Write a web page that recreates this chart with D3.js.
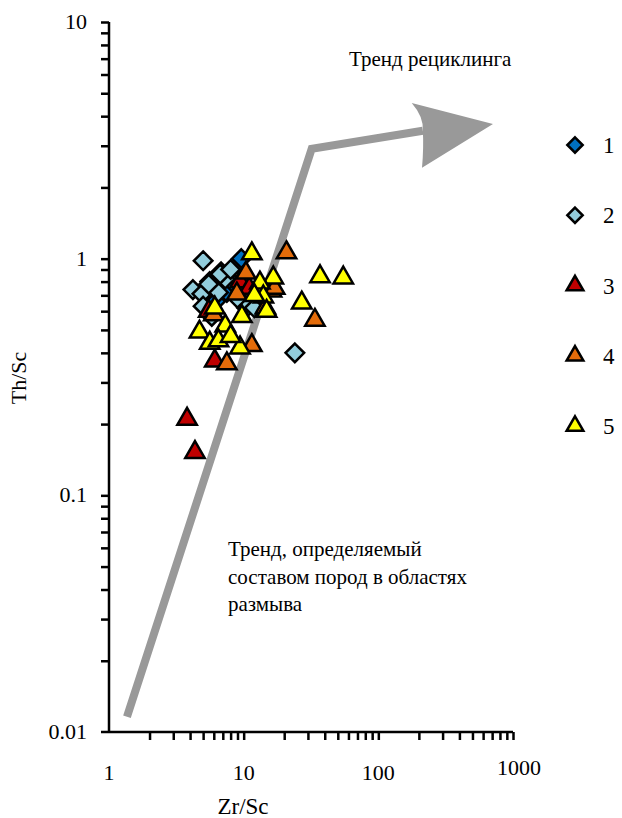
<!DOCTYPE html>
<html>
<head>
<meta charset="utf-8">
<script src="https://cdn.jsdelivr.net/npm/d3@7"></script>
<style>
  body { margin: 0; background: #fff; }
</style>
</head>
<body>
<svg id="chart" width="622" height="818"></svg>
<script>
// Series values: [Zr/Sc, Th/Sc]
const series1 = [[9.6, 1.0], [5.6, 0.8], [6.8, 0.88], [7.5, 0.72], [10.5, 0.62], [8.5, 0.78], [6.2, 0.66]];
const series2 = [[5.0, 0.98], [4.2, 0.74], [4.9, 0.71], [6.5, 0.72], [7.3, 0.82], [6.7, 0.86], [5.0, 0.63],
  [10.5, 0.65], [24, 0.40], [8.0, 0.9], [5.8, 0.57], [9.0, 0.68], [12, 0.62], [5.5, 0.78]];
const series3 = [[3.8, 0.21], [4.35, 0.152], [6.1, 0.37], [9.4, 0.8], [5.5, 0.6], [11, 0.75], [16, 0.76]];
const series4 = [[20.8, 1.06], [10.4, 0.87], [8.9, 0.71], [16.1, 0.73], [33.8, 0.55], [11.5, 0.43],
  [7.5, 0.36], [14.5, 0.62], [6.0, 0.58], [17, 0.75]];
const series5 = [[11.5, 1.05], [36.9, 0.84], [54.9, 0.83], [27, 0.65], [16.6, 0.83], [13.2, 0.79],
  [14, 0.69], [14.8, 0.6], [6.1, 0.62], [9.7, 0.57], [7.3, 0.52], [4.7, 0.49], [5.6, 0.44],
  [9.4, 0.42], [6.5, 0.45], [8, 0.47], [12, 0.7]];

const seriesNames = ['1', '2', '3', '4', '5'];
const seriesColors = ['#0070c0', '#92cddc', '#c00000', '#e46c0a', '#ffff00'];
const seriesShapes = ['diamond', 'diamond', 'triangle', 'triangle', 'triangle'];

// Trend line (shaft) and arrowhead, in data units
const trendLine = [[1.36, 0.0116], [32, 2.91], [214, 3.47]];
const arrowTip = [710, 3.71];
const arrowBackTop = [177, 4.55];
const arrowBackBottom = [211, 2.42];
const arrowNotch = [214, 3.47];

const xMajor = [1, 10, 100, 1000];
const yMajor = [0.01, 0.1, 1, 10];

const serif = 'Liberation Serif';
const svg = d3.select('#chart').attr('font-family', serif);

const x = d3.scaleLog().domain([1, 1000]).range([109, 513]);
const y = d3.scaleLog().domain([0.01, 10]).range([732, 22]);

// all minor + major ticks
function logTicks(lo, hi) {
  const out = [];
  for (let p = lo; p < hi; p *= 10) {
    for (let k = 1; k < 10; k++) out.push(+(p * k).toPrecision(3));
  }
  out.push(hi);
  return out;
}

// Trend arrow (drawn first, under points)
const line = d3.line().x(d => x(d[0])).y(d => y(d[1]));
svg.append('path')
  .attr('d', line(trendLine))
  .attr('fill', 'none')
  .attr('stroke', '#999999')
  .attr('stroke-width', 8)
  .attr('stroke-linejoin', 'miter');

const tip = [x(arrowTip[0]), y(arrowTip[1])];
const bt = [x(arrowBackTop[0]), y(arrowBackTop[1])];
const bb = [x(arrowBackBottom[0]), y(arrowBackBottom[1])];
const nt = [x(arrowNotch[0]), y(arrowNotch[1])];
const head = d3.path();
head.moveTo(tip[0], tip[1]);
head.lineTo(bt[0], bt[1]);
head.quadraticCurveTo(nt[0] + 1, nt[1] - 14, nt[0], nt[1]);
head.quadraticCurveTo(nt[0] + 1, nt[1] + 16, bb[0], bb[1]);
head.closePath();
svg.append('path').attr('d', head.toString()).attr('fill', '#999999');

// Axes
const xAxis = svg.append('g')
  .attr('transform', `translate(0,${y(0.01)})`)
  .call(d3.axisBottom(x)
    .tickValues(logTicks(1, 1000).filter(v => v > 1))
    .tickSize(8)
    .tickFormat(''));
const yAxis = svg.append('g')
  .attr('transform', `translate(${x(1)},0)`)
  .call(d3.axisLeft(y)
    .tickValues(logTicks(0.01, 10).filter(v => v > 0.01))
    .tickSize(8)
    .tickFormat(''));

[xAxis, yAxis].forEach(a => {
  a.select('.domain').attr('stroke', '#000').attr('stroke-width', 2.5);
  a.selectAll('.tick line').attr('stroke', '#000').attr('stroke-width', 2.5);
});
// extend axis lines slightly past origin
xAxis.select('.domain').attr('d', `M${x(1) - 8},0H${x(1000)}`);
yAxis.select('.domain').attr('d', `M0,${y(0.01)}V${y(10)}`);

// tick labels
svg.append('g').selectAll('text')
  .data(xMajor)
  .join('text')
  .attr('x', d => x(d) + (d === 1000 ? 6 : 0))
  .attr('y', d => d === 1000 ? 775 : 780)
  .attr('text-anchor', 'middle')
  .attr('font-family', serif)
  .attr('font-size', 22)
  .text(d => d);

svg.append('g').selectAll('text')
  .data(yMajor)
  .join('text')
  .attr('x', 87)
  .attr('y', d => y(d) + 7)
  .attr('text-anchor', 'end')
  .attr('font-family', serif)
  .attr('font-size', 22)
  .text(d => d);

// axis titles
svg.append('text')
  .attr('x', 243).attr('y', 814)
  .attr('text-anchor', 'middle')
  .attr('font-family', serif)
  .attr('font-size', 23)
  .text('Zr/Sc');
svg.append('text')
  .attr('transform', 'translate(26,378) rotate(-90)')
  .attr('text-anchor', 'middle')
  .attr('font-family', serif)
  .attr('font-size', 22)
  .text('Th/Sc');

// Markers
const diamond = d3.symbol().type(d3.symbolDiamond2).size(220);
const triangle = d3.symbol().type(d3.symbolTriangle2).size(270);
function shapePath(s) { return s === 'diamond' ? diamond() : triangle(); }

const allSeries = [series1, series2, series3, series4, series5];
allSeries.forEach((data, i) => {
  svg.append('g').selectAll('path')
    .data(data)
    .join('path')
    .attr('d', shapePath(seriesShapes[i]))
    .attr('transform', d => `translate(${x(d[0])},${y(d[1])})`)
    .attr('fill', seriesColors[i])
    .attr('stroke', '#000')
    .attr('stroke-width', 2.5)
    .attr('stroke-linejoin', 'miter');
});

// Legend
const legendY = d3.scaleLinear().domain([0, 4]).range([145, 426]);
const legend = svg.append('g');
seriesNames.forEach((name, i) => {
  legend.append('path')
    .attr('d', seriesShapes[i] === 'diamond'
      ? d3.symbol().type(d3.symbolDiamond2).size(150)()
      : d3.symbol().type(d3.symbolTriangle2).size(200)())
    .attr('transform', `translate(575,${legendY(i)})`)
    .attr('fill', seriesColors[i])
    .attr('stroke', '#000')
    .attr('stroke-width', 2.5);
  legend.append('text')
    .attr('x', 603)
    .attr('y', legendY(i) + 8)
    .attr('font-family', serif)
    .attr('font-size', 23)
    .text(name);
});

// Annotations
svg.append('text')
  .attr('x', 349).attr('y', 66)
  .attr('font-family', serif)
  .attr('font-size', 21)
  .text('Тренд рециклинга');

const noteLines = ['Тренд, определяемый', 'составом пород в областях', 'размыва'];
svg.append('g').selectAll('text')
  .data(noteLines)
  .join('text')
  .attr('x', 228)
  .attr('y', (d, i) => 556 + i * 27.5)
  .attr('font-family', serif)
  .attr('font-size', 21)
  .text(d => d);
</script>
</body>
</html>
